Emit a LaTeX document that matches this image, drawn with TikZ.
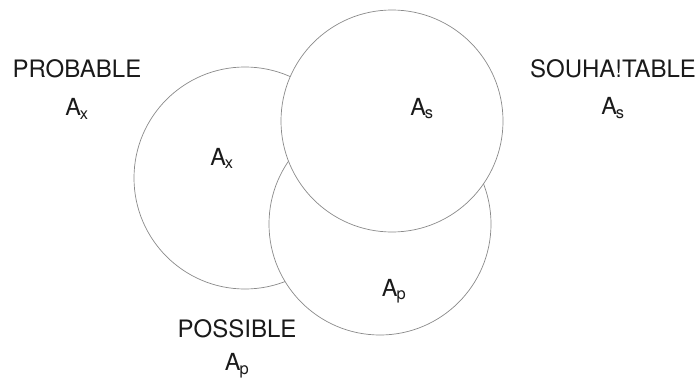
\documentclass[tikz,border=0pt]{standalone}
\usepackage{fontspec}
\setmainfont{TeX Gyre Heros}
\usepackage{xcolor}
\usepackage{tikz}
\usetikzlibrary{positioning}
\definecolor{rim}{HTML}{8A8A8A}
\definecolor{ink}{HTML}{1A1A1A}
\tikzset{
  ring/.style ={circle,draw=rim,line width=0.7pt,fill=white,minimum size=222pt,
                inner sep=0pt},
  word/.style ={text=ink,font=\fontsize{24}{26}\selectfont,inner sep=0pt},
  tag/.style  ={text=ink,font=\fontsize{23.5}{26}\selectfont,inner sep=0pt}
}
\newcommand{\Asub}[1]{A\textsubscript{\kern-1pt#1}}

\begin{document}
\begin{tikzpicture}[x=1pt,y=-1pt]
    \useasboundingbox (0,0) rectangle (698,380);
    % the three sets, drawn back to front
    \node[ring] (prob) at (245,178) {};
    \node[ring] (poss) at (380,224) {};
    \node[ring] (souh) at (392,121) {};
    % names inside the rings
    \node[tag,anchor=base] (inx) at (222,165) {\Asub{x}};
    \node[tag,anchor=base] (ins) at (422,115) {\Asub{s}};
    \node[tag,anchor=base] (inp) at (394,296) {\Asub{p}};
    % names outside
    \node[word,anchor=base] (lprob) at (77,77) {PROBABLE};
    \node[tag,below=21pt of lprob] (oux) {\Asub{x}};
    \node[word,anchor=base] (lsouh) at (613,77) {SOUHA!TABLE};
    \node[tag,below=20pt of lsouh] (ous) {\Asub{s}};
    \node[word,anchor=base] (lposs) at (237,337) {POSSIBLE};
    \node[tag,below=16pt of lposs] (oup) {\Asub{p}};
  \end{tikzpicture}
\end{document}
